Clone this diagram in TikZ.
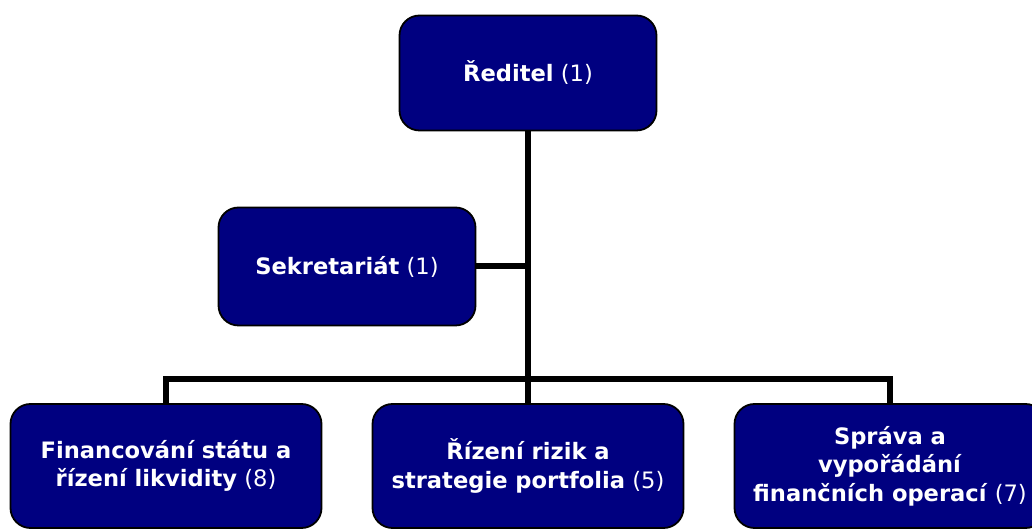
\documentclass[tikz,border=0pt]{standalone}
\usepackage{fontspec}
\setmainfont{DejaVu Sans}
\usetikzlibrary{positioning}
\definecolor{navy}{RGB}{0,0,128}

\begin{document}
\begin{tikzpicture}[x=1pt, y=1pt,
                every node/.style={font=\fontsize{22.6}{28.5}\selectfont, text=white, align=center, inner sep=0pt},
                box/.style={draw=black, line width=1.8pt, fill=navy, rounded corners=20pt},
                boss/.style={box, minimum width=257pt, minimum height=115pt},
                dept/.style={box, minimum width=311pt, minimum height=124pt},
                link/.style={draw=black, line width=6pt}]

    \useasboundingbox (0, 0) rectangle (1032, 529); % size of the slide picture

    \node [boss] (red)  at (528, 456) {\textbf{Ředitel} (1)};
    \node [boss, minimum height=118pt] (sek) at (347, 262.5) {\textbf{Sekretariát} (1)};
    \node [dept] (fin)  at (166, 63) {\textbf{Financování státu a}\\\textbf{řízení likvidity} (8)};
    \node [dept] (riz)  at (528, 63) {\textbf{Řízení rizik a}\\\textbf{strategie portfolia} (5)};
    \node [dept] (spr)  at (890, 63) {\textbf{Správa a}\\\textbf{vypořádání}\\\textbf{finančních operací} (7)};

    \coordinate (bus) at (528, 150); % horizontal line over the departments

    \draw [link] (red.south) -- (riz.north);
    \draw [link] (sek.east) -- (sek.east -| red.south);
    \draw [link] (fin.north) |- (bus) -| (spr.north);

\end{tikzpicture}
\end{document}
